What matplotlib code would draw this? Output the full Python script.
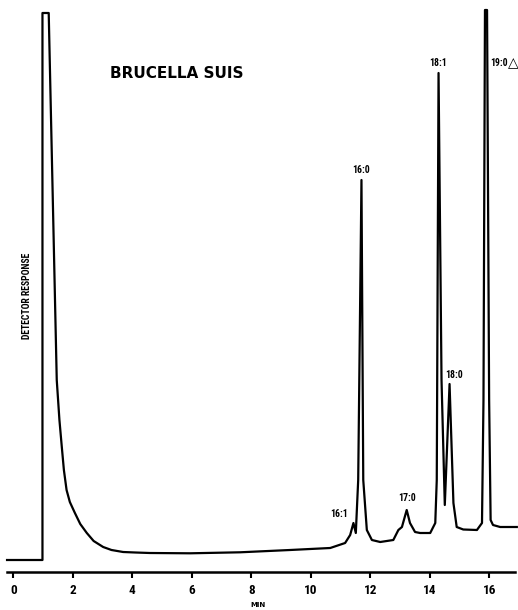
import numpy as np
import matplotlib
matplotlib.use('Agg')
from matplotlib import pyplot as plt

# chromatogram trace (time in min, response in arbitrary units)
time_min = [-0.21, 0.98, 0.98, 1.19, 1.46, 1.55, 1.63, 1.70, 1.79, 1.90, 2.07,
            2.25, 2.47, 2.70, 3.02, 3.30, 3.69, 4.10, 4.59, 5.94, 7.62, 9.30,
            10.65, 11.15, 11.32, 11.43,
            11.51, 11.59, 11.70, 11.76, 11.88, 12.05, 12.33, 12.77, 12.94,
            13.06, 13.22, 13.33, 13.50, 13.67, 14.01, 14.18, 14.23, 14.29,
            14.39, 14.50, 14.66, 14.79, 14.90, 15.12, 15.58, 15.75, 15.80,
            15.85, 15.92, 15.99, 16.04, 16.12, 16.36, 16.92]
response = [0, 0, 547, 547, 180, 140, 113, 90, 70, 58, 47,
            36, 27, 19, 13, 10, 8, 7.5, 7, 6.7, 7.7, 10,
            12, 17, 25, 37,
            27, 80, 380, 80, 30, 20, 18, 20, 30,
            33, 50, 37, 28, 27, 27, 37, 80, 487,
            180, 55, 176, 57, 33, 30.5, 30, 37, 160,
            550, 550, 160, 40, 35, 33, 33]

peak_names = ['16:1', '16:0', '17:0', '18:1', '18:0', '19:0']
tick_vals = [0, 2, 4, 6, 8, 10, 12, 14, 16]

narrow = ['Roboto Condensed', 'Liberation Sans Narrow', 'DejaVu Sans']

fig = plt.figure(figsize=(5.18, 6.10), dpi=100)
ax = fig.add_axes([0, 38 / 610, 1, 572 / 610])
ax.plot(time_min, response, color='black', lw=1.6)

ax.set_xlim(-0.447, 16.96)
ax.set_ylim(-12, 560)
for s in ['left', 'top', 'right']:
    ax.spines[s].set_visible(False)
ax.spines['bottom'].set_linewidth(1.8)
ax.spines['bottom'].set_bounds(-0.21, 16.86)
ax.set_yticks([])
ax.set_xticks(tick_vals)
ax.tick_params(axis='x', direction='out', length=4.5, width=1.5, pad=4)
for lab in ax.get_xticklabels():
    lab.set_fontweight('bold')
    lab.set_fontsize(9.5)
    lab.set_family(narrow)

lbl = dict(fontsize=7, fontweight='bold', family=narrow,
           ha='center', va='center')
label_pos = [(10.96, 46), (11.68, 390), (13.24, 62), (14.28, 497), (14.81, 185)]
for name, (x, y) in zip(peak_names[:5], label_pos):
    ax.text(x, y, name, **lbl)
ax.text(16.02, 497, peak_names[5], fontsize=7, fontweight='bold',
        family=narrow, ha='left', va='center')
ax.text(16.97, 497, '\u25b3', fontsize=10, ha='right', va='center')

ax.text(3.25, 487, 'BRUCELLA SUIS', fontsize=11, fontweight='bold',
        ha='left', va='center')

fig.text(27 / 518, 1 - 296 / 610, 'DETECTOR RESPONSE', rotation=90,
         fontsize=7, fontweight='bold', family=narrow,
         ha='center', va='center')
fig.text(258 / 518, 5 / 610, 'MIN', fontsize=5, fontweight='bold',
         ha='center', va='center')

fig.savefig('out.png', dpi=100)
